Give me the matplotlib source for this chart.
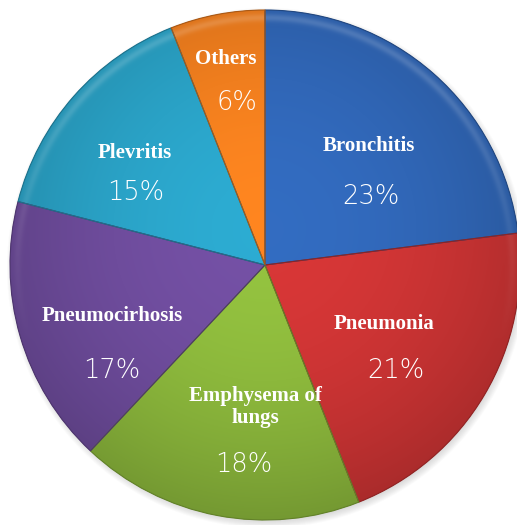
import numpy as np
import matplotlib
matplotlib.use("Agg")
import matplotlib.pyplot as plt
from matplotlib.colors import to_rgb
from matplotlib.patches import Wedge

labels = ["Bronchitis", "Pneumonia", "Emphysema of\nlungs", "Pneumocirhosis", "Plevritis", "Others"]
values = [23, 21, 18, 17, 15, 6]
colors = ["#3066b6", "#cc3434", "#8cb83c", "#6e4c9c", "#2aa2c6", "#f07e1e"]

W, H = 517, 525
fig = plt.figure(figsize=(W / 100, H / 100), dpi=100)
ax = fig.add_axes([0, 0, 1, 1])
cx, cy, R = 265, 525 - 265, 255

# drop shadow
for i in range(8):
    circ = plt.Circle((cx + 2, cy - 3), R + 5 - i * 1.0, color="#707070", alpha=0.03, lw=0, zorder=0)
    ax.add_patch(circ)

wedges, _ = ax.pie(values, colors=colors, startangle=90, counterclock=False,
                   center=(cx, cy), radius=R, wedgeprops=dict(lw=0))

xs = np.arange(0, W) + 0.5
ys = np.arange(0, H) + 0.5
X, Y = np.meshgrid(xs, ys)
rr = np.hypot(X - cx, Y - cy) / R

for w, c in zip(wedges, colors):
    base = np.array(to_rgb(c))
    fac = 1.06 - 0.18 * rr ** 2 + 0.05 * (Y - cy) / R
    img = base[None, None, :] * fac[..., None]
    rim = np.exp(-((rr - 0.97) / 0.015) ** 2) * np.clip((Y - cy) / R + 0.3, 0, 1) * 0.15
    img = img + (1 - img) * rim[..., None]
    img = np.clip(img, 0, 1)
    im = ax.imshow(img, extent=(0, W, 0, H), origin="lower", zorder=1, interpolation="bilinear")
    im.set_clip_path(w)
    dark = base * 0.7
    edge = Wedge(w.center, w.r, w.theta1, w.theta2, fill=False, ec=dark, lw=0.8, zorder=2)
    ax.add_patch(edge)

serif = dict(family=["Liberation Serif", "DejaVu Serif"], weight="bold", color="white",
             fontsize=15, ha="center", va="center", zorder=5, linespacing=1.2)
pct = dict(family=["DejaVu Sans"], weight="light", color="white",
           fontsize=18.5, ha="center", va="center", zorder=5)

label_pos = [(369, 146), (384, 324), (255, 407), (112, 316), (135, 153), (226, 59)]
pct_pos = [(371, 197), (396, 370), (244, 465), (112, 370), (136, 192), (237, 103)]

for lab, v, (lx, ly), (px, py) in zip(labels, values, label_pos, pct_pos):
    ax.text(lx, H - ly, lab, **serif)
    ax.text(px, H - py, f"{v}%", **pct)

ax.set_xlim(0, W)
ax.set_ylim(0, H)
ax.set_aspect("equal")
ax.axis("off")
fig.savefig("out.png", dpi=100, facecolor="white")
